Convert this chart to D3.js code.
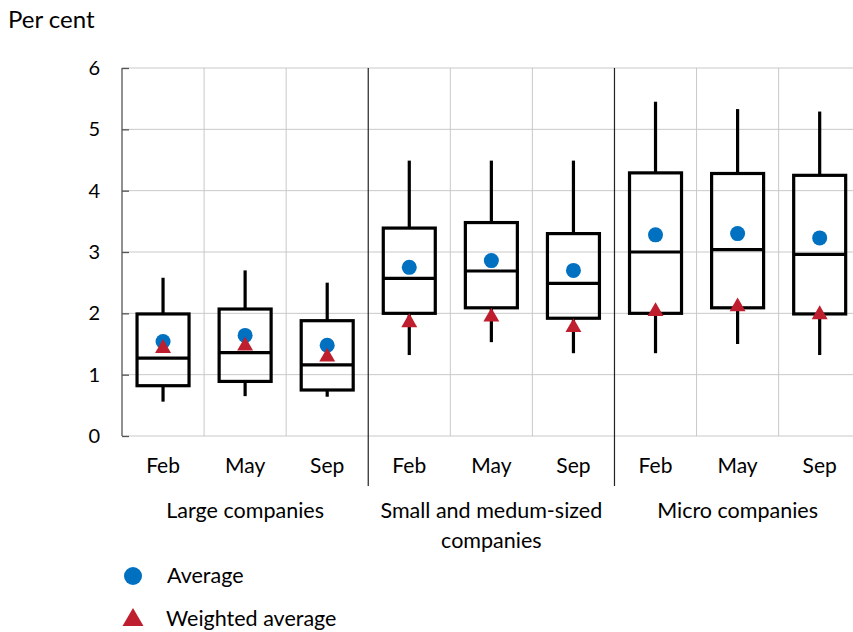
<!DOCTYPE html>
<html><head><meta charset="utf-8">
<script src="https://cdn.jsdelivr.net/npm/d3@7"></script>
<style>body{margin:0;background:#fff;} svg{display:block;} text{font-family:Lato, "Open Sans", sans-serif;fill:#000;}</style>
</head><body><svg id="c" width="853" height="632"></svg>
<script>
const groups = ["Large companies", "Small and medum-sized|companies", "Micro companies"];
const months = ["Feb", "May", "Sep"];
const whiskerLow  = [0.56, 0.65, 0.64,  1.32, 1.53, 1.35,  1.35, 1.50, 1.32];
const boxLow      = [0.82, 0.89, 0.75,  2.00, 2.09, 1.92,  2.00, 2.09, 1.99];
const median      = [1.27, 1.36, 1.16,  2.57, 2.69, 2.49,  3.00, 3.04, 2.96];
const boxHigh     = [1.99, 2.07, 1.88,  3.39, 3.48, 3.30,  4.29, 4.28, 4.25];
const whiskerHigh = [2.58, 2.70, 2.50,  4.49, 4.49, 4.49,  5.45, 5.33, 5.29];
const average     = [1.54, 1.64, 1.48,  2.75, 2.86, 2.70,  3.28, 3.30, 3.23];
const weighted    = [1.43, 1.47, 1.29,  1.85, 1.94, 1.77,  2.03, 2.11, 1.98];
const yTicks = [0, 1, 2, 3, 4, 5, 6];

(function () {
const svg = d3.select("#c");
const W = 853;
const pLeft = 122, pTop = 68, pBottom = 436;
const bw = 82.08;
const keys = [];
groups.forEach((g, gi) => months.forEach((m, mi) => keys.push(gi * 3 + mi)));
const x = d3.scaleBand().domain(keys).range([pLeft, pLeft + bw * keys.length]).padding(0);
const y = d3.scaleLinear().domain([0, 6]).range([pBottom, pTop]);

const blue = "#0070C0", red = "#BE1E2D";

svg.append("g").selectAll("line").data(yTicks).join("line")
  .attr("x1", pLeft).attr("x2", W).attr("y1", d => y(d)).attr("y2", d => y(d))
  .attr("stroke", "#c9c9c9").attr("stroke-width", 1);
svg.append("g").selectAll("line").data(keys.filter(k => k % 3 !== 0)).join("line")
  .attr("x1", d => x(d)).attr("x2", d => x(d)).attr("y1", pTop).attr("y2", pBottom)
  .attr("stroke", "#c9c9c9").attr("stroke-width", 1);
svg.append("g").selectAll("line").data(keys.filter(k => k % 3 === 0 && k > 0)).join("line")
  .attr("x1", d => x(d)).attr("x2", d => x(d)).attr("y1", pTop).attr("y2", 486)
  .attr("stroke", "#222").attr("stroke-width", 1.2);

const yAxis = d3.axisLeft(y).tickValues(yTicks).tickSize(-7).tickPadding(22).tickFormat(d3.format("d"));
const ya = svg.append("g").attr("transform", `translate(${pLeft},0)`).call(yAxis);
ya.select(".domain").attr("stroke", "#555").attr("stroke-width", 1.3).attr("d", `M0,${pTop}V${pBottom}`);
ya.selectAll(".tick line").attr("stroke", "#555").attr("stroke-width", 1.3);
ya.selectAll(".tick text").attr("font-size", 20).attr("font-family", "Lato, sans-serif").attr("fill", "#000");

const xAxis = d3.axisBottom(x).tickSize(0).tickPadding(37).tickFormat(d => months[d % 3]);
const xa = svg.append("g").attr("transform", `translate(0,${pBottom})`).call(xAxis);
xa.select(".domain").remove();
xa.selectAll(".tick text").attr("dy", 0).attr("font-size", 21).attr("font-family", "Lato, sans-serif").attr("fill", "#000");

groups.forEach((g, gi) => {
  const cx = x(gi * 3 + 1) + bw / 2;
  const t = svg.append("text").attr("x", cx).attr("y", 518).attr("text-anchor", "middle").attr("font-size", 21.5);
  g.split("|").forEach((line, li) => {
    t.append("tspan").attr("x", cx).attr("dy", li === 0 ? 0 : 30).text(line);
  });
});

const boxW = 52;
const bx = svg.append("g");
keys.forEach(k => {
  const cx = x(k) + bw / 2;
  const g = bx.append("g").attr("stroke", "#000").attr("stroke-width", 3.2).attr("fill", "none");
  g.append("line").attr("x1", cx).attr("x2", cx).attr("y1", y(whiskerHigh[k])).attr("y2", y(boxHigh[k]));
  g.append("line").attr("x1", cx).attr("x2", cx).attr("y1", y(boxLow[k])).attr("y2", y(whiskerLow[k]));
  g.append("rect").attr("x", cx - boxW / 2).attr("width", boxW)
    .attr("y", y(boxHigh[k])).attr("height", y(boxLow[k]) - y(boxHigh[k]));
  g.append("line").attr("x1", cx - boxW / 2).attr("x2", cx + boxW / 2).attr("y1", y(median[k])).attr("y2", y(median[k]));
});

const sym = d3.symbol().type(d3.symbolTriangle).size(110);
svg.append("g").selectAll("circle").data(keys).join("circle")
  .attr("cx", d => x(d) + bw / 2).attr("cy", d => y(average[d])).attr("r", 7.5).attr("fill", blue);
svg.append("g").selectAll("path").data(keys).join("path")
  .attr("d", sym).attr("fill", red)
  .attr("transform", d => `translate(${x(d) + bw / 2},${y(weighted[d])})`);

svg.append("text").attr("x", 8).attr("y", 28).attr("font-size", 24).text("Per cent");

svg.append("circle").attr("cx", 133).attr("cy", 576).attr("r", 9).attr("fill", blue);
svg.append("text").attr("x", 167).attr("y", 583).attr("font-size", 21.5).text("Average");
svg.append("path").attr("d", d3.symbol().type(d3.symbolTriangle).size(190)).attr("fill", red)
  .attr("transform", "translate(133,620)");
svg.append("text").attr("x", 166).attr("y", 626).attr("font-size", 21.5).text("Weighted average");
})();
</script></body></html>
